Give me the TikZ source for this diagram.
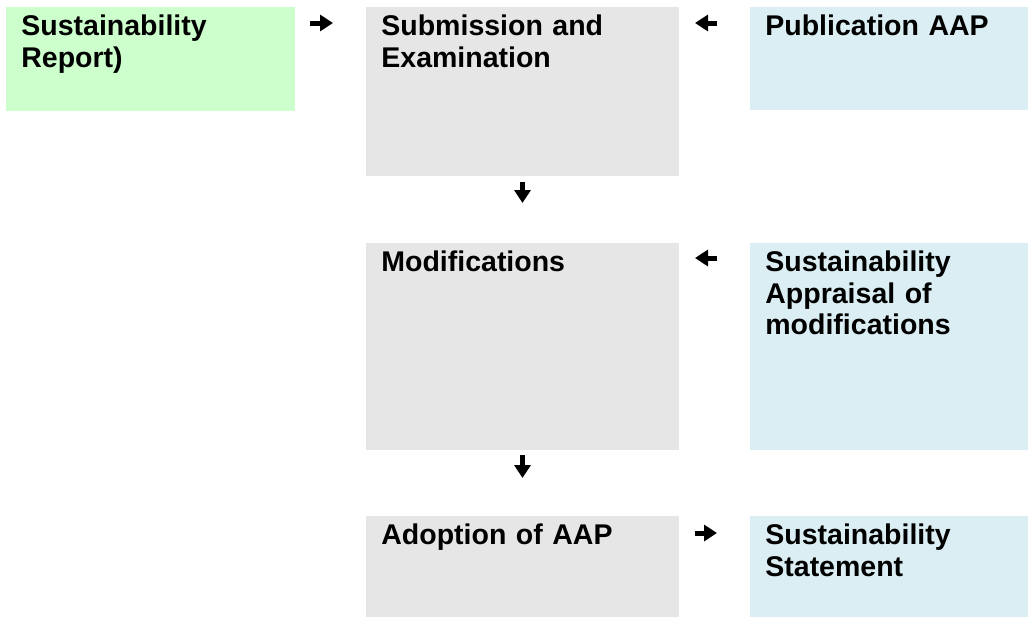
\documentclass[tikz,border=0pt]{standalone}
\usepackage{fontspec}
\setmainfont{Liberation Sans}
\usetikzlibrary{arrows.meta}
\definecolor{greenbox}{RGB}{204,255,204}
\definecolor{greybox}{RGB}{230,230,230}
\definecolor{bluebox}{RGB}{218,238,243}
\tikzset{
  box/.style={inner sep=0pt, outer sep=0pt, anchor=north west},
  txt/.style={inner sep=0pt, anchor=base west, text width=130pt, align=left,
    font=\bfseries\fontsize{14.25pt}{15.75pt}\selectfont},
  arr/.style={line width=2.5pt, -{Triangle[length=6.5pt,width=8pt]}}
}
\begin{document}
\begin{tikzpicture}
  \useasboundingbox (0,0) rectangle (514pt,-308.5pt);
  % boxes
  \node[box, fill=greenbox, minimum width=144.5pt, minimum height=52pt] (srep) at (3pt,-3.5pt) {};
  \node[box, fill=greybox, minimum width=156.5pt, minimum height=84.5pt] (sub) at (183pt,-3.5pt) {};
  \node[box, fill=bluebox, minimum width=139pt, minimum height=51.5pt] (pub) at (375pt,-3.5pt) {};
  \node[box, fill=greybox, minimum width=156.5pt, minimum height=103.5pt] (mod) at (183pt,-121.5pt) {};
  \node[box, fill=bluebox, minimum width=139pt, minimum height=103.5pt] (app) at (375pt,-121.5pt) {};
  \node[box, fill=greybox, minimum width=156.5pt, minimum height=50.5pt] (adopt) at (183pt,-258pt) {};
  \node[box, fill=bluebox, minimum width=139pt, minimum height=50.5pt] (stat) at (375pt,-258pt) {};
  % texts
  \node[txt] (srepT) at ([shift={(7.5pt,-14.35pt)}]srep.north west) {Sustainability\\Report)};
  \node[txt] (subT) at ([shift={(7.5pt,-14.35pt)}]sub.north west) {Submission and\\Examination};
  \node[txt] (pubT) at ([shift={(7.5pt,-14.35pt)}]pub.north west) {Publication AAP};
  \node[txt] (modT) at ([shift={(7.5pt,-14.35pt)}]mod.north west) {Modifications};
  \node[txt] (appT) at ([shift={(7.5pt,-14.35pt)}]app.north west) {Sustainability\\Appraisal of\\modifications};
  \node[txt] (adoptT) at ([shift={(7.5pt,-14.35pt)}]adopt.north west) {Adoption of AAP};
  \node[txt] (statT) at ([shift={(7.5pt,-14.35pt)}]stat.north west) {Sustainability\\Statement};
  % arrows
  \draw[arr, shorten <=7.5pt, shorten >=16.5pt] ([yshift=-8pt]srep.north east) -- ([yshift=-8pt]sub.north west);
  \draw[arr, shorten <=16.5pt, shorten >=8pt] ([yshift=-8pt]pub.north west) -- ([yshift=-8pt]sub.north east);
  \draw[arr, shorten <=3pt, shorten >=20pt] (sub.south) -- (mod.north);
  \draw[arr, shorten <=16.5pt, shorten >=8pt] ([yshift=-7.5pt]app.north west) -- ([yshift=-7.5pt]mod.north east);
  \draw[arr, shorten <=2.5pt, shorten >=19pt] (mod.south) -- (adopt.north);
  \draw[arr, shorten <=8pt, shorten >=16.5pt] ([yshift=-8.5pt]adopt.north east) -- ([yshift=-8.5pt]stat.north west);
\end{tikzpicture}
\end{document}
